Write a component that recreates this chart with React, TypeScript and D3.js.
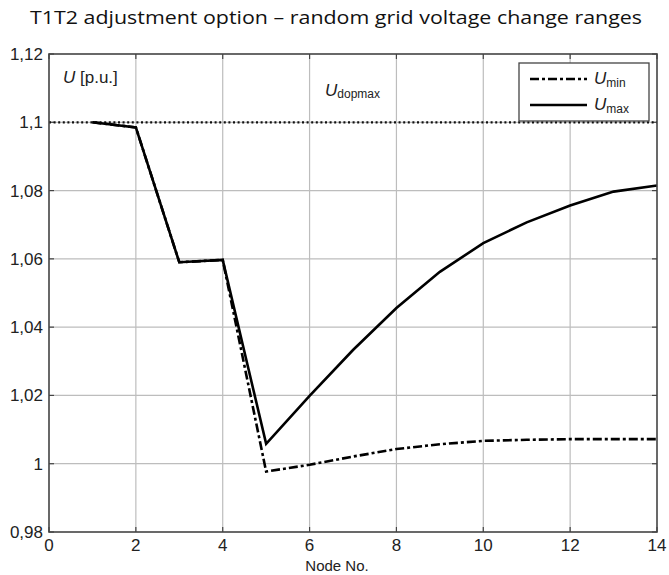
import React, { useEffect, useRef } from 'react';
import * as d3 from 'd3';

const nodes = [1, 2, 3, 4, 5, 6, 7, 8, 9, 10, 11, 12, 13, 14];
const uMax = [1.1, 1.0985, 1.059, 1.0597, 1.0058, 1.0199, 1.0333, 1.0456, 1.0562, 1.0646, 1.0707, 1.0756, 1.0797, 1.0815];
const uMin = [1.1, 1.0985, 1.059, 1.0597, 0.9977, 0.9997, 1.0021, 1.0043, 1.0057, 1.0067, 1.007, 1.0072, 1.0072, 1.0072];
const xTicks = [0, 2, 4, 6, 8, 10, 12, 14];
const yTicks = [0.98, 1, 1.02, 1.04, 1.06, 1.08, 1.1, 1.12];
const uDopMax = 1.1;

const App = () => {
  const svgRef = useRef<SVGSVGElement>(null);

  useEffect(() => {
    const width = 669;
    const height = 575;
    const m = { left: 49, right: 12, top: 54, bottom: 43 };

    const svg = d3.select(svgRef.current);
    svg.selectAll('*').remove();

    const x = d3.scaleLinear().domain([0, 14]).range([m.left, width - m.right]);
    const y = d3.scaleLinear().domain([0.98, 1.12]).range([height - m.bottom, m.top]);
    const fmt = (d: number) => String(d).replace('.', ',');

    svg.append('rect').attr('width', width).attr('height', height).attr('fill', '#fff');

    // grid
    const grid = svg.append('g').attr('stroke', '#bdbdbd').attr('stroke-width', 1.2);
    grid.selectAll('.gx').data(xTicks.slice(1, -1)).join('line')
      .attr('x1', d => x(d)).attr('x2', d => x(d))
      .attr('y1', y(1.12)).attr('y2', y(0.98));
    grid.selectAll('.gy').data(yTicks.slice(1, -1)).join('line')
      .attr('y1', d => y(d)).attr('y2', d => y(d))
      .attr('x1', x(0)).attr('x2', x(14));

    // tick marks inside frame
    const ticks = svg.append('g').attr('stroke', '#444').attr('stroke-width', 1.2);
    ticks.selectAll('.tb').data(xTicks).join('line')
      .attr('x1', d => x(d)).attr('x2', d => x(d)).attr('y1', y(0.98)).attr('y2', y(0.98) - 5);
    ticks.selectAll('.tt').data(xTicks).join('line')
      .attr('x1', d => x(d)).attr('x2', d => x(d)).attr('y1', y(1.12)).attr('y2', y(1.12) + 5);
    ticks.selectAll('.tl').data(yTicks).join('line')
      .attr('y1', d => y(d)).attr('y2', d => y(d)).attr('x1', x(0)).attr('x2', x(0) + 5);
    ticks.selectAll('.tr').data(yTicks).join('line')
      .attr('y1', d => y(d)).attr('y2', d => y(d)).attr('x1', x(14)).attr('x2', x(14) - 5);

    // Udopmax line
    svg.append('line')
      .attr('x1', x(0)).attr('x2', x(14)).attr('y1', y(uDopMax)).attr('y2', y(uDopMax))
      .attr('stroke', '#111').attr('stroke-width', 2.2).attr('stroke-dasharray', '2,2.6');

    const line = d3.line<number>().x((_, i) => x(nodes[i])).y(d => y(d));

    svg.append('path').datum(uMin).attr('d', line)
      .attr('fill', 'none').attr('stroke', '#000').attr('stroke-width', 2.6)
      .attr('stroke-dasharray', '9,3,3,3');
    svg.append('path').datum(uMax).attr('d', line)
      .attr('fill', 'none').attr('stroke', '#000').attr('stroke-width', 2.6);

    // frame
    svg.append('rect')
      .attr('x', x(0)).attr('y', y(1.12)).attr('width', x(14) - x(0)).attr('height', y(0.98) - y(1.12))
      .attr('fill', 'none').attr('stroke', '#444').attr('stroke-width', 1.6);

    const font = 'Liberation Sans, Arial, sans-serif';

    // tick labels
    svg.append('g').selectAll('text').data(yTicks).join('text')
      .attr('x', x(0) - 6).attr('y', d => y(d)).attr('dy', '0.35em')
      .attr('text-anchor', 'end').attr('font-family', font).attr('font-size', 17).attr('fill', '#222')
      .text(d => fmt(d));
    svg.append('g').selectAll('text').data(xTicks).join('text')
      .attr('x', d => x(d)).attr('y', y(0.98) + 19)
      .attr('text-anchor', 'middle').attr('font-family', font).attr('font-size', 17).attr('fill', '#222')
      .text(d => d);

    // title
    svg.append('text')
      .attr('x', 336).attr('y', 24).attr('text-anchor', 'middle')
      .attr('font-family', 'Open Sans, sans-serif').attr('font-size', 19).attr('fill', '#111')
      .attr('textLength', 612).attr('lengthAdjust', 'spacingAndGlyphs')
      .text('T1T2 adjustment option – random grid voltage change ranges');

    // x axis title
    svg.append('text')
      .attr('x', 337).attr('y', 571).attr('text-anchor', 'middle')
      .attr('font-family', font).attr('font-size', 15).attr('fill', '#222')
      .text('Node No.');

    // U [p.u.]
    const uLabel = svg.append('text').attr('x', 63).attr('y', 83)
      .attr('font-family', font).attr('font-size', 17).attr('fill', '#222');
    uLabel.append('tspan').attr('font-style', 'italic').text('U');
    uLabel.append('tspan').text(' [p.u.]');

    // Udopmax
    const ud = svg.append('text').attr('x', 325).attr('y', 96)
      .attr('font-family', font).attr('font-size', 17).attr('fill', '#222');
    ud.append('tspan').attr('font-style', 'italic').text('U');
    ud.append('tspan').attr('font-size', 12).attr('dy', 2).text('dopmax');

    // legend
    const lg = svg.append('g');
    lg.append('rect').attr('x', 519).attr('y', 63).attr('width', 130).attr('height', 58)
      .attr('fill', '#fff').attr('stroke', '#444').attr('stroke-width', 1.3);
    const items = [
      { name: 'min', dash: '9,3,3,3', yy: 79 },
      { name: 'max', dash: null, yy: 105 },
    ];
    items.forEach(it => {
      lg.append('line').attr('x1', 530).attr('x2', 587).attr('y1', it.yy).attr('y2', it.yy)
        .attr('stroke', '#000').attr('stroke-width', 2.6)
        .attr('stroke-dasharray', it.dash);
      const t = lg.append('text').attr('x', 594).attr('y', it.yy + 5)
        .attr('font-family', font).attr('font-size', 17).attr('fill', '#222');
      t.append('tspan').attr('font-style', 'italic').text('U');
      t.append('tspan').attr('font-size', 12).attr('dy', 3).text(it.name);
    });
  }, []);

  return <svg ref={svgRef} width={669} height={575} style={{ position: 'absolute', left: 0, top: 0 }} />;
};

export default App;
